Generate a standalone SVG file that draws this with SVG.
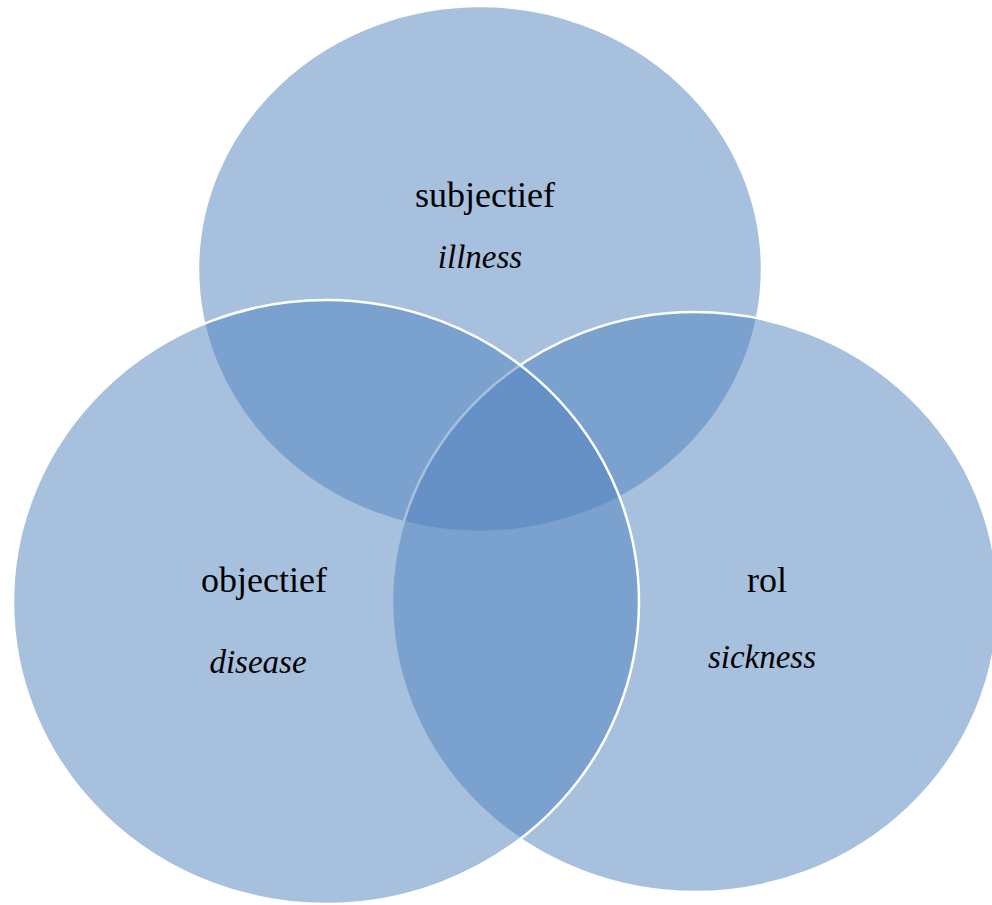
<svg xmlns="http://www.w3.org/2000/svg" width="992" height="905" viewBox="0 0 992 905">
<style>
.c{fill:#4F81BD;fill-opacity:0.5;stroke:#ffffff;stroke-width:2.5}
.t{font-family:"Liberation Serif","Times New Roman",serif;font-size:36px;fill:#000;text-anchor:middle}
.i{font-family:"Liberation Serif","Times New Roman",serif;font-size:33px;font-style:italic;fill:#000;text-anchor:middle}
</style>
<rect width="992" height="905" fill="#ffffff"/>
<g id="subjectief">
<ellipse class="c" cx="480" cy="269" rx="282" ry="263"/>
</g>
<g id="rol">
<ellipse class="c" cx="695" cy="602" rx="303" ry="290"/>
</g>
<g id="objectief">
<ellipse class="c" cx="326" cy="602" rx="313" ry="302"/>
</g>
<g id="labels">
<text class="t" x="485" y="207">subjectief</text>
<text class="i" x="480" y="268">illness</text>
<text class="t" x="264" y="592">objectief</text>
<text class="i" x="258" y="673">disease</text>
<text class="t" x="767" y="592">rol</text>
<text class="i" x="762" y="668">sickness</text>
</g>
</svg>
